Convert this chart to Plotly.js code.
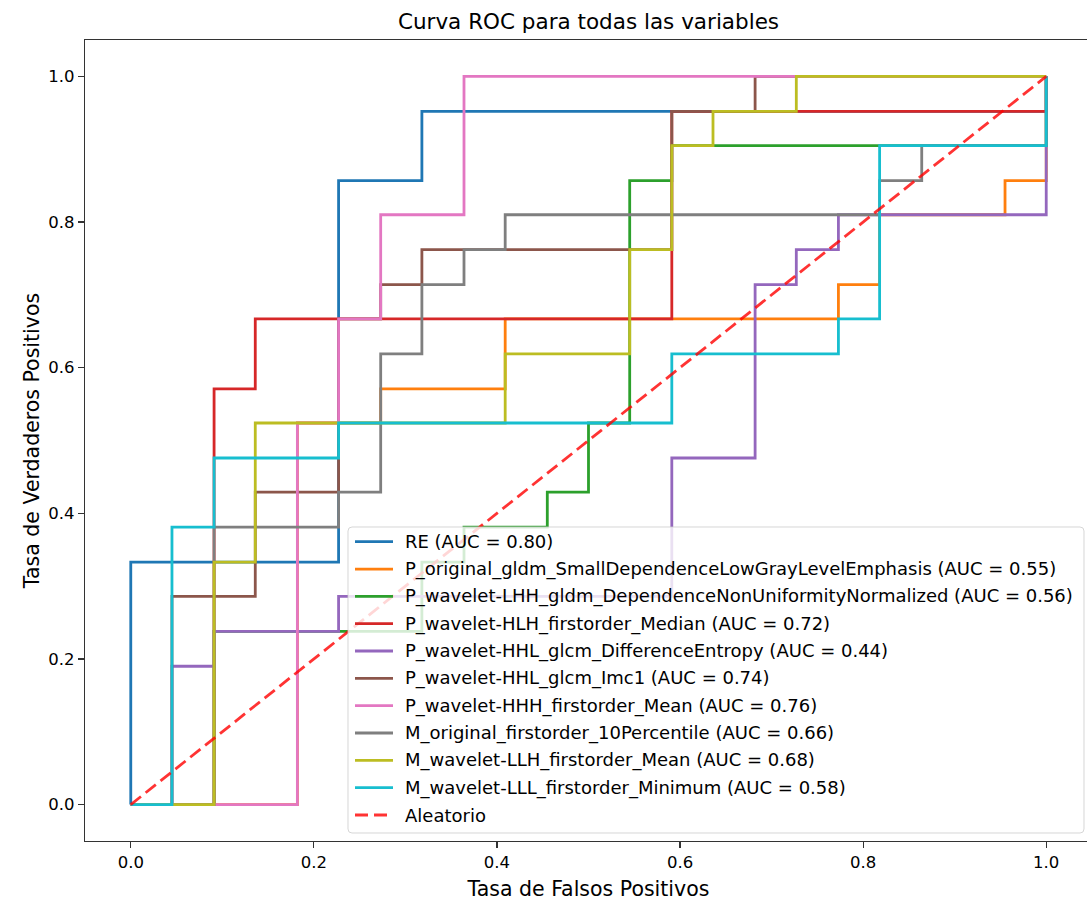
<!DOCTYPE html>
<html>
<head>
<meta charset="utf-8">
<script src="https://cdn.plot.ly/plotly-3.0.1.min.js"></script>
<style>
html,body{margin:0;padding:0;background:#fff;overflow:hidden;width:1087px;height:902px;}
#chart{width:1100px;height:902px;}
</style>
</head>
<body>
<div id="chart"></div>
<script>
// ---- Data ----
const seriesNames = [
  "RE (AUC = 0.80)",
  "P_original_gldm_SmallDependenceLowGrayLevelEmphasis (AUC = 0.55)",
  "P_wavelet-LHH_gldm_DependenceNonUniformityNormalized (AUC = 0.56)",
  "P_wavelet-HLH_firstorder_Median (AUC = 0.72)",
  "P_wavelet-HHL_glcm_DifferenceEntropy (AUC = 0.44)",
  "P_wavelet-HHL_glcm_Imc1 (AUC = 0.74)",
  "P_wavelet-HHH_firstorder_Mean (AUC = 0.76)",
  "M_original_firstorder_10Percentile (AUC = 0.66)",
  "M_wavelet-LLH_firstorder_Mean (AUC = 0.68)",
  "M_wavelet-LLL_firstorder_Minimum (AUC = 0.58)"
];
const randomName = "Aleatorio";

const fprRE   = [0, 0, 0.227, 0.227, 0.318, 0.318, 1, 1];
const tprRE   = [0, 0.333, 0.333, 0.857, 0.857, 0.952, 0.952, 1];

const fprSDLGLE = [0, 0.182, 0.182, 0.273, 0.273, 0.409, 0.409, 0.773, 0.773, 0.818, 0.818, 0.955, 0.955, 1, 1];
const tprSDLGLE = [0, 0, 0.524, 0.524, 0.571, 0.571, 0.667, 0.667, 0.714, 0.714, 0.81, 0.81, 0.857, 0.857, 1];

const fprDNUN = [0, 0.091, 0.091, 0.318, 0.318, 0.364, 0.364, 0.455, 0.455, 0.5, 0.5, 0.545, 0.545, 0.591, 0.591, 1, 1];
const tprDNUN = [0, 0, 0.238, 0.238, 0.333, 0.333, 0.381, 0.381, 0.429, 0.429, 0.524, 0.524, 0.857, 0.857, 0.905, 0.905, 1];

const fprMedian = [0, 0.091, 0.091, 0.136, 0.136, 0.591, 0.591, 1, 1];
const tprMedian = [0, 0, 0.571, 0.571, 0.667, 0.667, 0.952, 0.952, 1];

const fprDiffEnt = [0, 0.045, 0.045, 0.091, 0.091, 0.227, 0.227, 0.591, 0.591, 0.682, 0.682, 0.727, 0.727, 0.773, 0.773, 1, 1];
const tprDiffEnt = [0, 0, 0.19, 0.19, 0.238, 0.238, 0.286, 0.286, 0.476, 0.476, 0.714, 0.714, 0.762, 0.762, 0.81, 0.81, 1];

const fprImc1 = [0, 0.045, 0.045, 0.136, 0.136, 0.227, 0.227, 0.273, 0.273, 0.318, 0.318, 0.591, 0.591, 0.682, 0.682, 1];
const tprImc1 = [0, 0, 0.286, 0.286, 0.429, 0.429, 0.667, 0.667, 0.714, 0.714, 0.762, 0.762, 0.952, 0.952, 1, 1];

const fprHHHMean = [0, 0.182, 0.182, 0.227, 0.227, 0.273, 0.273, 0.364, 0.364, 1];
const tprHHHMean = [0, 0, 0.524, 0.524, 0.667, 0.667, 0.81, 0.81, 1, 1];

const fprP10 = [0, 0.091, 0.091, 0.227, 0.227, 0.273, 0.273, 0.318, 0.318, 0.364, 0.364, 0.409, 0.409, 0.818, 0.818, 0.864, 0.864, 1, 1];
const tprP10 = [0, 0, 0.381, 0.381, 0.429, 0.429, 0.619, 0.619, 0.714, 0.714, 0.762, 0.762, 0.81, 0.81, 0.857, 0.857, 0.905, 0.905, 1];

const fprLLHMean = [0, 0.091, 0.091, 0.136, 0.136, 0.409, 0.409, 0.545, 0.545, 0.591, 0.591, 0.636, 0.636, 0.727, 0.727, 1];
const tprLLHMean = [0, 0, 0.333, 0.333, 0.524, 0.524, 0.619, 0.619, 0.762, 0.762, 0.905, 0.905, 0.952, 0.952, 1, 1];

const fprLLLMin = [0, 0.045, 0.045, 0.091, 0.091, 0.227, 0.227, 0.591, 0.591, 0.773, 0.773, 0.818, 0.818, 1, 1];
const tprLLLMin = [0, 0, 0.381, 0.381, 0.476, 0.476, 0.524, 0.524, 0.619, 0.619, 0.667, 0.667, 0.905, 0.905, 1];

const fprRandom = [0, 1];
const tprRandom = [0, 1];

const tickVals = [0, 0.2, 0.4, 0.6, 0.8, 1.0];
const tickLabels = ["0.0", "0.2", "0.4", "0.6", "0.8", "1.0"];

// ---- Styling ----
const colors = ["#1f77b4","#ff7f0e","#2ca02c","#d62728","#9467bd","#8c564b","#e377c2","#7f7f7f","#bcbd22","#17becf"];
const randomColor = "rgba(255,0,0,0.8)";
const FONT = "DejaVu Sans";
const LW = 2.8;
const DASH = "13px,6px";

const fprs = [fprRE, fprSDLGLE, fprDNUN, fprMedian, fprDiffEnt, fprImc1, fprHHHMean, fprP10, fprLLHMean, fprLLLMin];
const tprs = [tprRE, tprSDLGLE, tprDNUN, tprMedian, tprDiffEnt, tprImc1, tprHHHMean, tprP10, tprLLHMean, tprLLLMin];

const traces = fprs.map((f, i) => ({
  x: f, y: tprs[i], type: "scatter", mode: "lines", name: seriesNames[i],
  line: {color: colors[i], width: LW}, showlegend: false, hoverinfo: "skip"
}));
traces.push({
  x: fprRandom, y: tprRandom, type: "scatter", mode: "lines", name: randomName,
  line: {color: randomColor, width: LW, dash: DASH}, showlegend: false, hoverinfo: "skip"
});

// ---- Layout geometry ----
const W = 1100, H = 902;
const M = {l: 85, r: 8, t: 40, b: 61};
const XR = [-0.05, 1.05], YR = [-0.05, 1.05];
const plotW = W - M.l - M.r, plotH = H - M.t - M.b;
const px2x = px => XR[0] + (px - M.l) / plotW * (XR[1] - XR[0]);
const py2y = py => YR[0] + (H - M.b - py) / plotH * (YR[1] - YR[0]);

// custom matplotlib-like legend
const legL = 348, legR = 1084, legT = 527, legB = 833, rad = 4;
const rx = rad * (XR[1]-XR[0]) / plotW, ry = rad * (YR[1]-YR[0]) / plotH;
const x0 = px2x(legL), x1 = px2x(legR), y0 = py2y(legB), y1 = py2y(legT);
const boxPath = `M ${x0+rx} ${y1} L ${x1-rx} ${y1} Q ${x1} ${y1} ${x1} ${y1-ry} L ${x1} ${y0+ry} Q ${x1} ${y0} ${x1-rx} ${y0} L ${x0+rx} ${y0} Q ${x0} ${y0} ${x0} ${y0+ry} L ${x0} ${y1-ry} Q ${x0} ${y1} ${x0+rx} ${y1} Z`;

const shapes = [{
  type: "path", xref: "x", yref: "y", path: boxPath, layer: "above",
  fillcolor: "rgba(255,255,255,0.8)", line: {color: "rgba(204,204,204,0.8)", width: 1}
}];
const annotations = [];
const rowY0 = 541.7, rowStep = 27.33;
traces.forEach((t, i) => {
  const py = rowY0 + i * rowStep;
  shapes.push({
    type: "line", xref: "x", yref: "y", layer: "above",
    x0: px2x(355), x1: px2x(393), y0: py2y(py), y1: py2y(py),
    line: {color: t.line.color, width: LW, dash: t.line.dash || "solid"}
  });
  annotations.push({
    xref: "x", yref: "y", x: px2x(404), y: py2y(py), xanchor: "left", yanchor: "middle",
    text: t.name, showarrow: false, borderpad: 0,
    font: {family: FONT, size: 18, color: "#000"}
  });
});

const axisCommon = {
  showgrid: false, zeroline: false, showline: true, mirror: true,
  linecolor: "#333", linewidth: 1.2, ticks: "outside", ticklen: 6, tickwidth: 1.2,
  tickcolor: "#333", tickvals: tickVals, ticktext: tickLabels,
  tickfont: {family: FONT, size: 16.5, color: "#000"}
};

const layout = {
  width: W, height: H, margin: M,
  paper_bgcolor: "#fff", plot_bgcolor: "#fff",
  font: {family: FONT, color: "#000"},
  title: {text: "Curva ROC para todas las variables", font: {family: FONT, size: 21.5, color: "#000"},
          x: 0.5, xref: "paper", y: 1 - 21/H, yref: "container", yanchor: "middle"},
  xaxis: Object.assign({}, axisCommon, {range: XR,
          title: {text: "Tasa de Falsos Positivos", font: {family: FONT, size: 20.5, color: "#000"}, standoff: 10}}),
  yaxis: Object.assign({}, axisCommon, {range: YR,
          title: {text: "Tasa de Verdaderos Positivos", font: {family: FONT, size: 20.5, color: "#000"}, standoff: 3}}),
  shapes: shapes, annotations: annotations, showlegend: false
};

Plotly.newPlot("chart", traces, layout, {staticPlot: true, displayModeBar: false});
</script>
</body>
</html>
